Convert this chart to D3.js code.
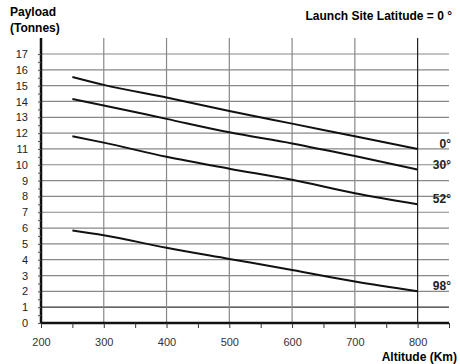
<!DOCTYPE html>
<html>
<head>
<meta charset="utf-8">
<script src="https://cdn.jsdelivr.net/npm/d3@7"></script>
<style>
  body { margin: 0; background: #fff; }
  text { font-family: "Liberation Sans", Arial, sans-serif; }
</style>
</head>
<body>
<svg id="chart" width="460" height="364"></svg>
<script>
// values
const altitudes = [250, 300, 400, 500, 600, 700, 800];
const latitudes = ['0°', '30°', '52°', '98°'];
const payloads = [
    [15.55, 15.05, 14.25, 13.4, 12.6, 11.8, 11.0],
    [14.15, 13.75, 12.9, 12.05, 11.35, 10.55, 9.7],
    [11.8, 11.4, 10.5, 9.75, 9.05, 8.2, 7.5],
    [5.85, 5.55, 4.75, 4.05, 3.35, 2.62, 2.0]
];
const xTicks = [200, 300, 400, 500, 600, 700, 800];
const yTicks = d3.range(0, 18);

const svg = d3.select('#chart');
const LEFT = 41, RIGHT = 449, TOP = 38, BOTTOM = 323;

const x = d3.scaleLinear().domain([200, 850]).range([LEFT, RIGHT]);
const y = d3.scaleLinear().domain([0, 17]).range([BOTTOM, 54]);

// grid
svg.append('g').selectAll('line')
    .data(yTicks.slice(1))
    .enter().append('line')
    .attr('x1', LEFT).attr('x2', RIGHT)
    .attr('y1', d => y(d)).attr('y2', d => y(d))
    .attr('stroke', d => d === 1 ? '#333' : '#888')
    .attr('stroke-width', 1.2);

svg.append('g').selectAll('line')
    .data(xTicks.slice(1))
    .enter().append('line')
    .attr('x1', d => x(d)).attr('x2', d => x(d))
    .attr('y1', TOP).attr('y2', BOTTOM)
    .attr('stroke', d => d === 800 ? '#222' : '#888')
    .attr('stroke-width', 1.2);

// x axis
const xAxis = svg.append('g')
    .attr('transform', 'translate(0,' + BOTTOM + ')')
    .call(d3.axisBottom(x).tickValues(d3.range(200, 851, 50)).tickSize(5)
        .tickFormat(d => xTicks.includes(d) ? d : ''));
xAxis.select('.domain').attr('stroke', '#111').attr('stroke-width', 2.5).attr('d', 'M' + LEFT + ',0H' + RIGHT);
xAxis.selectAll('.tick line').attr('stroke', '#333');
xAxis.selectAll('.tick text').attr('dy', 15).attr('font-size', 11).attr('fill', '#333');

// y axis
const yAxis = svg.append('g')
    .attr('transform', 'translate(' + LEFT + ',0)')
    .call(d3.axisLeft(y).tickValues(d3.range(0, 17.01, 0.5)).tickSize(3)
        .tickFormat(d => Number.isInteger(d) ? d : ''));
yAxis.select('.domain').attr('stroke', '#111').attr('stroke-width', 2.5).attr('d', 'M0,' + TOP + 'V' + BOTTOM);
yAxis.selectAll('.tick line').attr('stroke', '#555');
yAxis.selectAll('.tick text').attr('x', -13).attr('font-size', 11).attr('fill', '#222');

// curves
const line = d3.line()
    .x((d, i) => x(altitudes[i]))
    .y(d => y(d))
    .curve(d3.curveMonotoneX);

svg.append('g').selectAll('path')
    .data(payloads)
    .enter().append('path')
    .attr('d', line)
    .attr('fill', 'none')
    .attr('stroke', '#111')
    .attr('stroke-width', 2);

svg.append('g').selectAll('text')
    .data(payloads)
    .enter().append('text')
    .attr('x', 451)
    .attr('y', d => y(d[d.length - 1]) - 1)
    .attr('text-anchor', 'end')
    .attr('font-size', 12)
    .attr('font-weight', 'bold')
    .attr('fill', '#222')
    .text((d, i) => latitudes[i]);

// titles
svg.append('text').attr('x', 10).attr('y', 16)
    .attr('font-size', 12).attr('font-weight', 'bold').text('Payload');
svg.append('text').attr('x', 10).attr('y', 32)
    .attr('font-size', 12).attr('font-weight', 'bold').text('(Tonnes)');
svg.append('text').attr('x', 452).attr('y', 20).attr('text-anchor', 'end')
    .attr('font-size', 12).attr('font-weight', 'bold').text('Launch Site Latitude = 0 °');
svg.append('text').attr('x', 457).attr('y', 361).attr('text-anchor', 'end')
    .attr('font-size', 12).attr('font-weight', 'bold').text('Altitude (Km)');
</script>
</body>
</html>
